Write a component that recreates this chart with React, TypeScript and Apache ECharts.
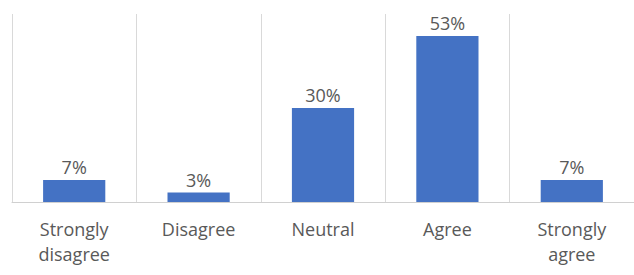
import React, { useEffect, useRef } from "react";
import * as echarts from "echarts";

const categories = ["Strongly\ndisagree", "Disagree", "Neutral", "Agree", "Strongly\nagree"];
const values = [7, 3, 30, 53, 7];

export default function App() {
  const ref = useRef<HTMLDivElement>(null);
  useEffect(() => {
    const chart = echarts.init(ref.current!, null, { renderer: "svg" });
    chart.setOption({
      animation: false,
      grid: { left: 12, right: 0, top: 14, bottom: 73 },
      xAxis: {
        type: "category",
        data: categories,
        boundaryGap: true,
        axisLine: { lineStyle: { color: "#D0D0D0", width: 1 } },
        axisTick: { show: false },
        axisLabel: {
          color: "#595959",
          fontFamily: "Open Sans",
          fontSize: 18,
          lineHeight: 25,
          margin: 14,
          interval: 0,
        },
        splitLine: { show: true, interval: 0, lineStyle: { color: "#D9D9D9", width: 1 } },
      },
      yAxis: {
        type: "value",
        min: 0,
        max: 60,
        show: false,
        splitLine: { show: false },
      },
      series: [
        {
          type: "bar",
          data: values,
          barWidth: "50%",
          itemStyle: { color: "#4472C4" },
          label: {
            show: true,
            position: "top",
            distance: 4,
            formatter: "{c}%",
            color: "#595959",
            fontFamily: "Open Sans",
            fontSize: 18,
          },
        },
      ],
    });
    return () => chart.dispose();
  }, []);
  return (
    <div
      ref={ref}
      style={{ position: "fixed", left: 0, top: 0, width: 634, height: 275, background: "#fff" }}
    />
  );
}
